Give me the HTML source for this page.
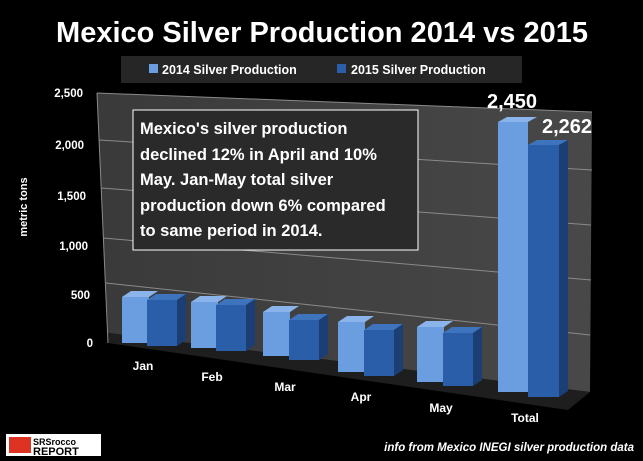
<!DOCTYPE html><html><head><style>body{margin:0;background:#000}svg{display:block}text{font-family:"Liberation Sans",sans-serif;font-weight:bold;fill:#fff}</style></head><body>
<svg width="643" height="461" viewBox="0 0 643 461">
<defs><linearGradient id="wg" x1="0" y1="0" x2="1" y2="0"><stop offset="0" stop-color="#3a3a3a"/><stop offset="1" stop-color="#484848"/></linearGradient></defs>
<rect width="643" height="461" fill="#000"/>
<text x="322" y="42" font-size="29" text-anchor="middle">Mexico Silver Production 2014 vs 2015</text>
<rect x="121" y="56" width="401" height="27" fill="#262626"/>
<rect x="149" y="64" width="9" height="9" fill="#6a9ee0"/>
<text x="162" y="74" font-size="12.5">2014 Silver Production</text>
<rect x="337" y="64" width="9" height="9" fill="#2a5ea8"/>
<text x="351" y="74" font-size="12.5">2015 Silver Production</text>
<polygon points="97,93 592,112 590,392 108,333" fill="url(#wg)"/>
<polygon points="108,333 590,392 568,410 108,343" fill="#1e1e1e"/>
<g stroke="#8a8a8a" stroke-width="1">
<line x1="97" y1="93" x2="592" y2="112"/>
<line x1="99" y1="140" x2="592" y2="170"/>
<line x1="101" y1="188" x2="591" y2="225"/>
<line x1="103" y1="238" x2="591" y2="280"/>
<line x1="106" y1="283" x2="590" y2="335"/>
<line x1="97" y1="93" x2="108" y2="343"/>
</g>
<g font-size="11.5" text-anchor="end">
<text x="83" y="97">2,500</text><text x="84" y="149">2,000</text><text x="86" y="200">1,500</text><text x="88" y="250">1,000</text><text x="90" y="299">500</text><text x="93" y="347">0</text>
</g>
<text transform="translate(27,207) rotate(-90)" font-size="11" text-anchor="middle">metric tons</text>
<g fill="#6a9ee0"><rect x="122" y="297" width="27" height="46"/><rect x="191" y="302" width="27" height="46"/><rect x="263" y="312" width="27" height="44"/><rect x="338" y="322" width="27" height="50"/><rect x="417" y="327" width="27" height="55"/><rect x="498" y="122" width="30" height="270"/></g>
<g fill="#8ab4ea"><polygon points="122,297 131,291 158,291 149,297"/><polygon points="191,302 200,296 227,296 218,302"/><polygon points="263,312 272,306 299,306 290,312"/><polygon points="338,322 347,316 374,316 365,322"/><polygon points="417,327 426,321 453,321 444,327"/><polygon points="498,122 507,117 537,117 528,122"/></g>
<g fill="#2a5ea8"><rect x="147" y="300" width="30" height="46"/><rect x="216" y="305" width="30" height="46"/><rect x="289" y="320" width="30" height="40"/><rect x="364" y="330" width="30" height="46"/><rect x="443" y="333" width="30" height="53"/><rect x="528" y="145" width="31" height="252"/></g>
<g fill="#3e74bd"><polygon points="147,300 156,294 186,294 177,300"/><polygon points="216,305 225,299 255,299 246,305"/><polygon points="289,320 298,314 328,314 319,320"/><polygon points="364,330 373,324 403,324 394,330"/><polygon points="443,333 452,327 482,327 473,333"/><polygon points="528,145 537,140 568,140 559,145"/></g>
<g fill="#1b3f75"><polygon points="177,300 186,294 186,340 177,346"/><polygon points="246,305 255,299 255,345 246,351"/><polygon points="319,320 328,314 328,354 319,360"/><polygon points="394,330 403,324 403,370 394,376"/><polygon points="473,333 482,327 482,380 473,386"/><polygon points="559,145 568,140 568,391 559,397"/></g>
<g font-size="12" text-anchor="middle">
<text x="143" y="370">Jan</text><text x="212" y="381">Feb</text><text x="285" y="391">Mar</text><text x="361" y="401">Apr</text><text x="441" y="412">May</text><text x="525" y="422">Total</text>
</g>
<text x="512" y="108" font-size="20" text-anchor="middle">2,450</text>
<text x="567" y="133" font-size="20" text-anchor="middle">2,262</text>
<rect x="133" y="110" width="285" height="140" fill="#2a2a2a" stroke="#fff" stroke-width="1"/>
<g font-size="16.5"><text x="140" y="134">Mexico's silver production</text><text x="140" y="160">declined 12% in April and 10%</text><text x="140" y="185">May.  Jan-May total silver</text><text x="140" y="211">production down 6% compared</text><text x="140" y="236">to same period in 2014.</text></g>
<rect x="6" y="434" width="95" height="22" fill="#fff"/>
<rect x="9" y="437" width="22" height="16" fill="#d32"/>
<text x="33" y="445" font-size="9" style="fill:#000">SRSrocco</text>
<text x="33" y="455" font-size="11" style="fill:#000">REPORT</text>
<text x="634" y="451" font-size="11.5" font-style="italic" text-anchor="end">info from Mexico INEGI silver production data</text>
</svg></body></html>
